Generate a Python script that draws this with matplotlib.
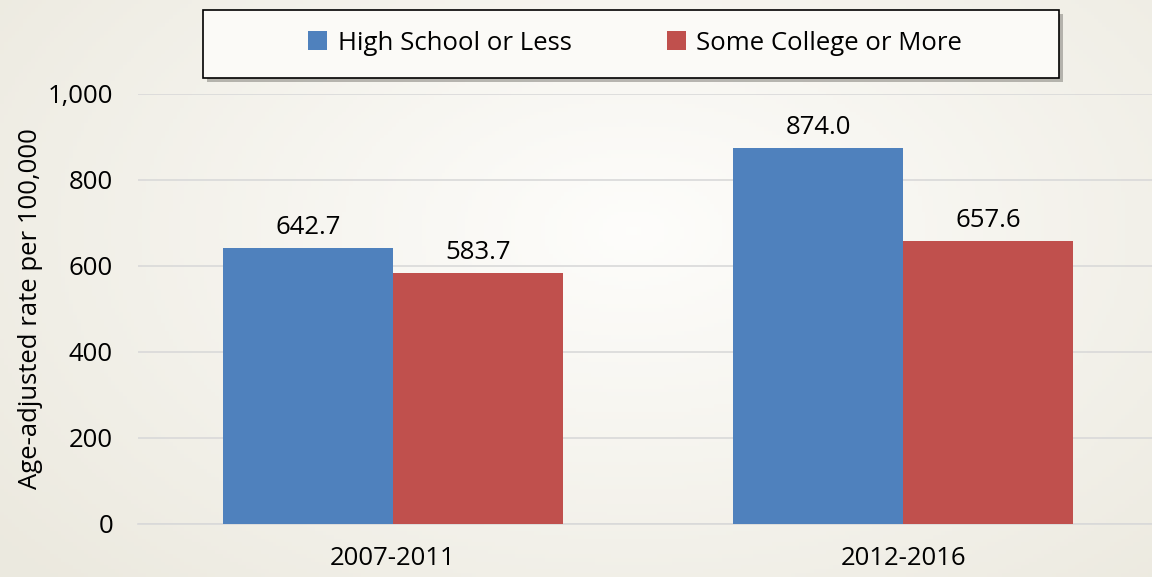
import matplotlib
matplotlib.use('Agg')
import matplotlib.pyplot as plt
import matplotlib.patches as mpatches
import numpy as np

plt.rcParams['font.family'] = ['Open Sans', 'DejaVu Sans']

# ── data ──
periods = ['2007-2011', '2012-2016']
series_names = ['High School or Less', 'Some College or More']
hs_less = [642.7, 874.0]
college_more = [583.7, 657.6]
yticks = [0, 200, 400, 600, 800, 1000]

BLUE = '#4F81BD'
RED = '#C0504D'
GRID = '#D9D9D9'
FS = 18.5

fig = plt.figure(figsize=(11.52, 5.77), dpi=100)

# soft beige gradient background
bg = fig.add_axes([0, 0, 1, 1], zorder=-10)
gx = np.linspace(0, 1, 300)
gy = np.linspace(0, 1, 150)
X, Y = np.meshgrid(gx, gy)
d = np.sqrt((X - 0.55) ** 2 + ((Y - 0.6) * 0.8) ** 2)
t = np.clip(d / 0.7, 0, 1)
c0 = np.array([0.995, 0.993, 0.985])
c1 = np.array([0.925, 0.915, 0.875])
img = c0[None, None, :] * (1 - t[..., None]) + c1[None, None, :] * t[..., None]
bg.imshow(img, aspect='auto', extent=[0, 1, 0, 1], origin='lower')
bg.set_xlim(0, 1)
bg.set_ylim(0, 1)
bg.axis('off')

# legend frame drawn by hand (pixel box 203..1059 x 10..78)
W, H = 1152, 577
fx0, fx1, fy0, fy1 = 203 / W, 1059 / W, 1 - 78 / H, 1 - 10 / H
shadow = mpatches.Rectangle((fx0 + 4 / W, fy0 - 4 / H), fx1 - fx0, fy1 - fy0,
                            transform=fig.transFigure, facecolor='#8C8A84',
                            edgecolor='none', alpha=0.6, zorder=1)
frame = mpatches.Rectangle((fx0, fy0), fx1 - fx0, fy1 - fy0,
                           transform=fig.transFigure, facecolor='#FBFAF7',
                           edgecolor='black', lw=1.2, zorder=2)
fig.patches.extend([shadow, frame])

ax = fig.add_axes([0.1198, 0.0919, 0.8802, 0.7453])
ax.patch.set_alpha(0)

x = np.arange(len(periods))
w = 1 / 3
b1 = ax.bar(x - w / 2, hs_less, w, color=BLUE, label=series_names[0], zorder=3)
b2 = ax.bar(x + w / 2, college_more, w, color=RED, label=series_names[1], zorder=3)

for bars, vals in [(b1, hs_less), (b2, college_more)]:
    for rect, v in zip(bars, vals):
        ax.text(rect.get_x() + rect.get_width() / 2, v + 18, f'{v:.1f}',
                ha='center', va='bottom', fontsize=FS, color='black')

ax.set_xlim(-0.5, 1.488)
ax.set_ylim(0, 1000)
ax.set_yticks(yticks)
ax.set_yticklabels([f'{v:,}' for v in yticks], fontsize=FS)
ax.set_xticks(x)
ax.set_xticklabels(periods, fontsize=FS)
ax.yaxis.grid(True, color=GRID, lw=1.2, zorder=0)
ax.set_axisbelow(True)
for s in ['top', 'right', 'left']:
    ax.spines[s].set_visible(False)
ax.spines['bottom'].set_color(GRID)
ax.spines['bottom'].set_linewidth(1.2)
ax.tick_params(axis='y', length=0, pad=18)
ax.tick_params(axis='x', length=0, pad=16)
ax.set_ylabel('Age-adjusted rate per 100,000', fontsize=FS)
ax.yaxis.set_label_coords(-0.094, 0.5)

leg = fig.legend(handles=[b1, b2], labels=series_names, loc='center',
                 bbox_to_anchor=(635 / W, 1 - 43 / H), ncol=2, fontsize=FS,
                 frameon=False, handlelength=0.75, handleheight=0.75,
                 columnspacing=3.7, handletextpad=0.4)
leg.set_zorder(5)

fig.savefig('out.png', dpi=100)
